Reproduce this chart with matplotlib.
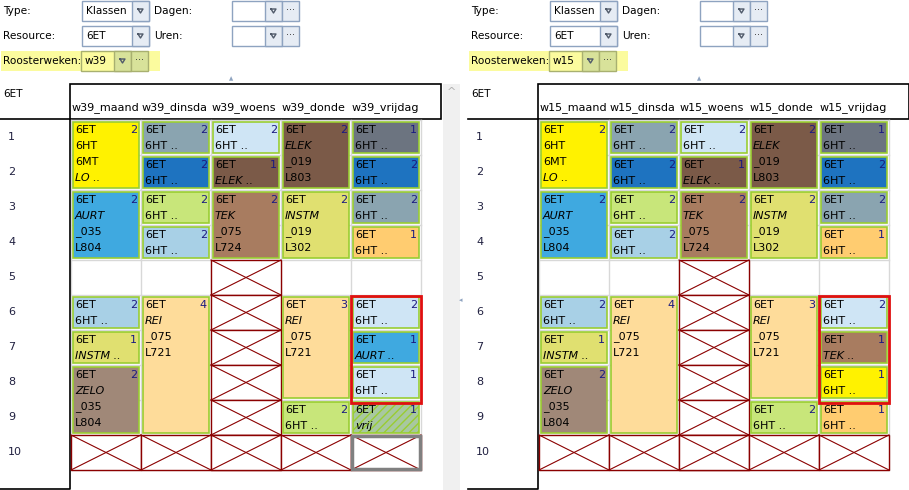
import matplotlib.pyplot as plt
from matplotlib.patches import Rectangle

DAYS = ['maand', 'dinsda', 'woens', 'donde', 'vrijdag']
HOURS = list(range(1, 11))

YEL = '#fff200'; SKY = '#3fa9e0'; LBL = '#a8d0e6'; INS = '#e0e070'; ZEL = '#a08878'
GRB = '#8aa4b0'; DBL = '#1e73c0'; LGR = '#c8e67a'; REI = '#fedc9a'; PAL = '#cfe5f5'
BRN = '#7b5a48'; TEK = '#a87c60'; SLT = '#6c7480'; ORG = '#ffcc70'

# (day, first hour, hours, colour, lines, count, italic line)
w39 = [
    (0, 1, 2, YEL, ['6ET', '6HT', '6MT', 'LO ..'], 2, 3),
    (0, 3, 2, SKY, ['6ET', 'AURT', '_035', 'L804'], 2, 1),
    (0, 6, 1, LBL, ['6ET', '6HT ..'], 2, -1),
    (0, 7, 1, INS, ['6ET', 'INSTM ..'], 1, 1),
    (0, 8, 2, ZEL, ['6ET', 'ZELO', '_035', 'L804'], 2, 1),
    (1, 1, 1, GRB, ['6ET', '6HT ..'], 2, -1),
    (1, 2, 1, DBL, ['6ET', '6HT ..'], 2, -1),
    (1, 3, 1, LGR, ['6ET', '6HT ..'], 2, -1),
    (1, 4, 1, LBL, ['6ET', '6HT ..'], 2, -1),
    (1, 6, 4, REI, ['6ET', 'REI', '_075', 'L721'], 4, 1),
    (2, 1, 1, PAL, ['6ET', '6HT ..'], 2, -1),
    (2, 2, 1, BRN, ['6ET', 'ELEK ..'], 1, 1),
    (2, 3, 2, TEK, ['6ET', 'TEK', '_075', 'L724'], 2, 1),
    (3, 1, 2, BRN, ['6ET', 'ELEK', '_019', 'L803'], 2, 1),
    (3, 3, 2, INS, ['6ET', 'INSTM', '_019', 'L302'], 2, 1),
    (3, 6, 3, REI, ['6ET', 'REI', '_075', 'L721'], 3, 1),
    (3, 9, 1, LGR, ['6ET', '6HT ..'], 2, -1),
    (4, 1, 1, SLT, ['6ET', '6HT ..'], 1, -1),
    (4, 2, 1, DBL, ['6ET', '6HT ..'], 2, -1),
    (4, 3, 1, GRB, ['6ET', '6HT ..'], 2, -1),
    (4, 4, 1, ORG, ['6ET', '6HT ..'], 1, -1),
    (4, 6, 1, PAL, ['6ET', '6HT ..'], 2, -1),
    (4, 7, 1, SKY, ['6ET', 'AURT ..'], 1, 1),
    (4, 8, 1, PAL, ['6ET', '6HT ..'], 1, -1),
    (4, 9, 1, 'hatch', ['6ET', 'vrij'], 1, 1),
]
w15 = [c for c in w39 if c[0] != 4 or c[1] < 7] + [
    (4, 7, 1, TEK, ['6ET', 'TEK ..'], 1, 1),
    (4, 8, 1, YEL, ['6ET', '6HT ..'], 1, -1),
    (4, 9, 1, ORG, ['6ET', '6HT ..'], 1, -1),
]
w39_blocked = [(2, h) for h in range(5, 11)] + [(d, 10) for d in range(5)]
w15_blocked = w39_blocked

FS = 8.0
FSH = 7.6
fig = plt.figure(figsize=(9.09, 4.90), dpi=100)
ax = fig.add_axes([0, 0, 1, 1])
ax.set_xlim(0, 909); ax.set_ylim(490, 0); ax.axis('off')


def combo(x, y, w, text, dots, bg='white', edge='#8ea3c0'):
    btn = '#e6ecf4' if bg == 'white' else '#d8e29a'
    ax.add_patch(Rectangle((x, y), w, 20, fc=bg, ec=edge, lw=1))
    ax.add_patch(Rectangle((x + w - 17, y), 17, 20, fc=btn, ec=edge, lw=1))
    if dots:
        ax.add_patch(Rectangle((x + w, y), 17, 20, fc=btn, ec=edge, lw=1))
        ax.text(x + w + 8.5, y + 9, '···', ha='center', va='center', fontsize=7, color='#333')
    ax.plot([x + w - 11, x + w - 6, x + w - 8.5, x + w - 11], [y + 8, y + 8, y + 12, y + 8], color='#505a6a', lw=1)
    ax.text(x + 4, y + 10, text, va='center', fontsize=FSH)


def panel(ox, week, cells, blocked, hatch_border):
    ax.text(ox + 3, 11, 'Type:', va='center', fontsize=FSH)
    ax.text(ox + 3, 36, 'Resource:', va='center', fontsize=FSH)
    ax.add_patch(Rectangle((ox + 1, 51), 159, 20, fc='#fbfb9e', ec='none'))
    ax.text(ox + 3, 61, 'Roosterweken:', va='center', fontsize=FSH)
    combo(ox + 82, 1, 67, 'Klassen', False)
    combo(ox + 82, 26, 67, '6ET', False)
    combo(ox + 81, 51, 50, week, True, bg='#fbfb9e', edge='#a8b070')
    ax.text(ox + 154, 11, 'Dagen:', va='center', fontsize=FSH)
    ax.text(ox + 154, 36, 'Uren:', va='center', fontsize=FSH)
    combo(ox + 232, 1, 50, '', True)
    combo(ox + 232, 26, 50, '', True)
    ax.text(ox + 3, 94, '6ET', va='center', fontsize=FSH)
    ax.add_patch(Rectangle((ox + 70, 84), 371, 35, fc='white', ec='black', lw=1.2))
    for i, d in enumerate(DAYS):
        ax.text(ox + 72 + 70 * i, 108, f'{week}_{d}', va='center', fontsize=FS)
    ax.plot([ox, ox + 70, ox + 70, ox], [119, 119, 489, 489], color='black', lw=1.2)
    for h in HOURS:
        ax.text(ox + 8, 120 + 35 * (h - 1) + 17, str(h), va='center', fontsize=FS, color='#202040')
    gx, gy = ox + 71, 120
    for i in range(6):
        ax.plot([gx + 70 * i] * 2, [gy, gy + 350], color='#d8d8d8', lw=1, zorder=1)
    for h in range(11):
        ax.plot([gx, gx + 350], [gy + 35 * h] * 2, color='#d8d8d8', lw=1, zorder=1)
    for d, h in blocked:
        x0, y0 = gx + 70 * d, gy + 35 * (h - 1)
        ax.add_patch(Rectangle((x0, y0), 70, 35, fc='white', ec='#8b0000', lw=1, zorder=2))
        ax.plot([x0, x0 + 70], [y0, y0 + 35], color='#8b0000', lw=0.8, zorder=2)
        ax.plot([x0, x0 + 70], [y0 + 35, y0], color='#8b0000', lw=0.8, zorder=2)
    if hatch_border:
        ax.add_patch(Rectangle((gx + 281, gy + 316), 68, 33, fc='none', ec='#808080', lw=2.5, zorder=3))
    for d, h, n, col, lines, cnt, it in cells:
        x0, y0 = gx + 70 * d + 2, gy + 35 * (h - 1) + 2
        if col == 'hatch':
            ax.add_patch(Rectangle((x0, y0), 66, 35 * n - 4, fc='#a8c8a0', ec='#9acd32', lw=1.2,
                                   hatch='////', zorder=3))
        else:
            ax.add_patch(Rectangle((x0, y0), 66, 35 * n - 4, fc=col, ec='#9acd32', lw=1.2, zorder=3))
        for k, t in enumerate(lines):
            ax.text(x0 + 2, y0 + 8 + 16 * k, t, va='center', fontsize=FS, zorder=4,
                    style='italic' if k == it else 'normal')
        ax.text(x0 + 64, y0 + 8, str(cnt), va='center', ha='right', fontsize=FS,
                color='#1a1a80', zorder=4)
    ax.add_patch(Rectangle((gx + 280, gy + 176), 70, 107, fc='none', ec='#e01010', lw=2, zorder=5))
    ax.text(ox + 231, 79, '▲', ha='center', va='center', fontsize=4, color='#8ea3c0')


panel(0, 'w39', w39, w39_blocked, True)
panel(468, 'w15', w15, w15_blocked, False)
ax.add_patch(Rectangle((443, 84), 17, 406, fc='#f0f0f0', ec='none'))
ax.text(451, 92, '^', ha='center', va='center', fontsize=8, color='#b0b0b0')
ax.text(461, 300, '◂', ha='center', va='center', fontsize=5, color='#8ea3c0')

fig.savefig('out.png', dpi=100)
